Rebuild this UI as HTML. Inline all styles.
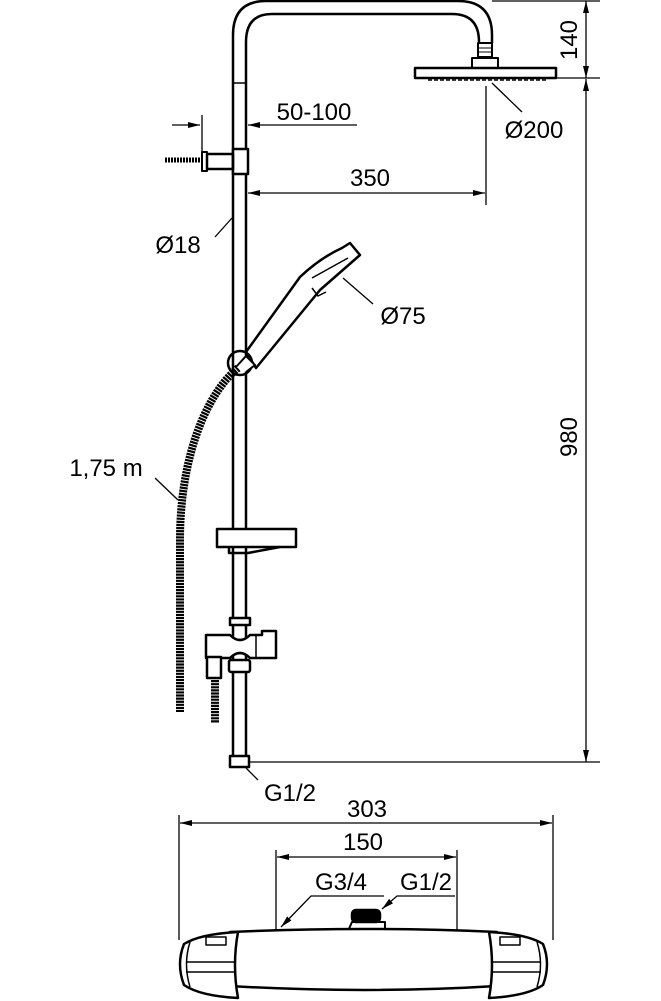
<!DOCTYPE html>
<html><head><meta charset="utf-8"><style>
html,body{margin:0;padding:0;background:#fff;}
svg{display:block;}
text{font-family:"Liberation Sans",Arial,sans-serif;font-size:24px;fill:#000;}
</style></head><body>
<svg width="661" height="1001" viewBox="0 0 661 1001" xmlns="http://www.w3.org/2000/svg">
<defs>
<marker id="a" viewBox="0 0 12 6" refX="12" refY="3" markerWidth="12" markerHeight="6" orient="auto" markerUnits="userSpaceOnUse"><path d="M0,0 L12,3 L0,6z" fill="#000"/></marker>
</defs>
<g fill="none" stroke="#000" stroke-width="2.5" stroke-linejoin="round">
<path d="M233,757 V35 Q233,1 266,1 H458 Q492,1 492,35 V43"/>
<path d="M246,757 V42 Q246,14 272,14 H452 Q479,14 479,42 V43"/>
<line x1="233" y1="83" x2="246" y2="83" stroke-width="1.5"/>
<rect x="478" y="43" width="14" height="14" stroke-width="2"/>
<line x1="478" y1="48" x2="492" y2="48" stroke-width="1"/>
<line x1="478" y1="52" x2="492" y2="52" stroke-width="1"/>
<rect x="472" y="58" width="26" height="10" stroke-width="2"/>
<rect x="415" y="68" width="141" height="10"/>
<line x1="428" y1="80" x2="546" y2="80" stroke-width="1.5" stroke-dasharray="4 2"/>
<rect x="233" y="149" width="15" height="25" fill="#fff"/>
<rect x="207" y="154" width="26" height="15"/>
<rect x="202" y="152" width="5" height="19" stroke-width="2"/>
<path d="M165,160 H202" stroke-width="5" stroke-dasharray="2 1"/>
<rect x="217" y="529" width="79" height="18" fill="#fff"/>
<path d="M229,547 V553 H248 L280,547"/>
<rect x="230" y="618" width="20" height="7" fill="#fff"/>
<path d="M206,635 H230 Q240,645 250,635 H262 V631 H276 V658 H262 V658 H250 Q240,648 230,658 H206 Z" fill="#fff"/>
<line x1="256" y1="635" x2="256" y2="658" stroke-width="1.5"/>
<rect x="229" y="660" width="21" height="12" rx="2" fill="#fff"/>
<rect x="207" y="657" width="14" height="21" fill="#fff"/>
<path d="M215,680 V723" stroke-width="8" stroke-dasharray="2.2 0.9"/>
<rect x="230" y="756" width="19" height="11" fill="#fff"/>
<path d="M238,368 C205,395 180,460 180,540 V712" stroke-width="8" stroke-dasharray="2.2 0.9"/>
<path d="M246,352 L300,277 Q320,258 342,248 L350,243 L360,255 L352,262 L320,290 L256,368 Z" fill="#fff"/>
<path d="M312,278 L348,258" stroke-width="1.5"/>
<path d="M312,288 L318,296 L326,292" stroke-width="1.5"/>
<circle cx="240" cy="363" r="12" fill="none"/>
<path d="M236,367 L246,356 L255,365 L246,372" fill="#fff" stroke-width="2"/>
<path d="M352,922 H385 V931 H348 Z" fill="#fff" stroke-width="2"/>
<rect x="352" y="910" width="28" height="12" rx="4" fill="#000"/>
<path d="M230,932 Q365,926 497,932 V986 Q365,994 230,986 Z" fill="#fff"/>
<path d="M238,932 Q200,934 184,944 Q176,964 184,985 Q200,996 238,998 Q232,965 238,932 Z" fill="#fff"/>
<path d="M190,942 Q183,964 190,987" stroke-width="1.5"/>
<path d="M186,962 H236 M186,972 H236" stroke-width="1.5"/>
<rect x="206" y="937" width="20" height="8" stroke-width="1.5"/>
<path d="M489,932 Q527,934 543,944 Q551,964 543,985 Q527,996 489,998 Q495,965 489,932 Z" fill="#fff"/>
<path d="M537,942 Q544,964 537,987" stroke-width="1.5"/>
<path d="M491,962 H541 M491,972 H541" stroke-width="1.5"/>
<rect x="500" y="937" width="20" height="8" stroke-width="1.5"/>
</g>
<g stroke="#000" stroke-width="1.3" fill="none">
<line x1="492" y1="1" x2="600" y2="1"/>
<line x1="556" y1="78" x2="600" y2="78"/>
<line x1="248" y1="762" x2="600" y2="762"/>
<line x1="586" y1="40" x2="586" y2="1" marker-end="url(#a)"/>
<line x1="586" y1="40" x2="586" y2="78" marker-end="url(#a)"/>
<line x1="586" y1="420" x2="586" y2="79" marker-end="url(#a)"/>
<line x1="586" y1="420" x2="586" y2="762" marker-end="url(#a)"/>
<line x1="202" y1="115" x2="202" y2="166"/>
<line x1="172" y1="125" x2="200" y2="125" marker-end="url(#a)"/>
<line x1="357" y1="125" x2="248" y2="125" marker-end="url(#a)"/>
<line x1="486" y1="86" x2="486" y2="205"/>
<line x1="370" y1="193" x2="248" y2="193" marker-end="url(#a)"/>
<line x1="370" y1="193" x2="485" y2="193" marker-end="url(#a)"/>
<line x1="492" y1="83" x2="522" y2="112"/>
<line x1="215" y1="237" x2="232" y2="218"/>
<line x1="343" y1="278" x2="373" y2="304"/>
<line x1="155" y1="478" x2="178" y2="500"/>
<line x1="246" y1="768" x2="258" y2="780"/>
<line x1="179" y1="815" x2="179" y2="940"/>
<line x1="553" y1="815" x2="553" y2="940"/>
<line x1="276" y1="850" x2="276" y2="930"/>
<line x1="457" y1="850" x2="457" y2="930"/>
<line x1="366" y1="823" x2="180" y2="823" marker-end="url(#a)"/>
<line x1="366" y1="823" x2="552" y2="823" marker-end="url(#a)"/>
<line x1="366" y1="857" x2="277" y2="857" marker-end="url(#a)"/>
<line x1="366" y1="857" x2="456" y2="857" marker-end="url(#a)"/>
<polyline points="384,896 311,896 281,927" marker-end="url(#a)"/>
<polyline points="455,896 397,896 382,909" marker-end="url(#a)"/>
</g>
<text x="314" y="120" text-anchor="middle">50-100</text>
<text x="370" y="186" text-anchor="middle">350</text>
<text x="534" y="138" text-anchor="middle">Ø200</text>
<text x="178" y="253" text-anchor="middle">Ø18</text>
<text x="403" y="324" text-anchor="middle">Ø75</text>
<text x="106" y="476" text-anchor="middle">1,75 m</text>
<text x="290" y="801" text-anchor="middle">G1/2</text>
<text x="367" y="817" text-anchor="middle">303</text>
<text x="363" y="850" text-anchor="middle">150</text>
<text x="341" y="890" text-anchor="middle">G3/4</text>
<text x="426" y="890" text-anchor="middle">G1/2</text>
<text transform="translate(577,40) rotate(-90)" text-anchor="middle">140</text>
<text transform="translate(577,437) rotate(-90)" text-anchor="middle">980</text>
</svg>
</body></html>
